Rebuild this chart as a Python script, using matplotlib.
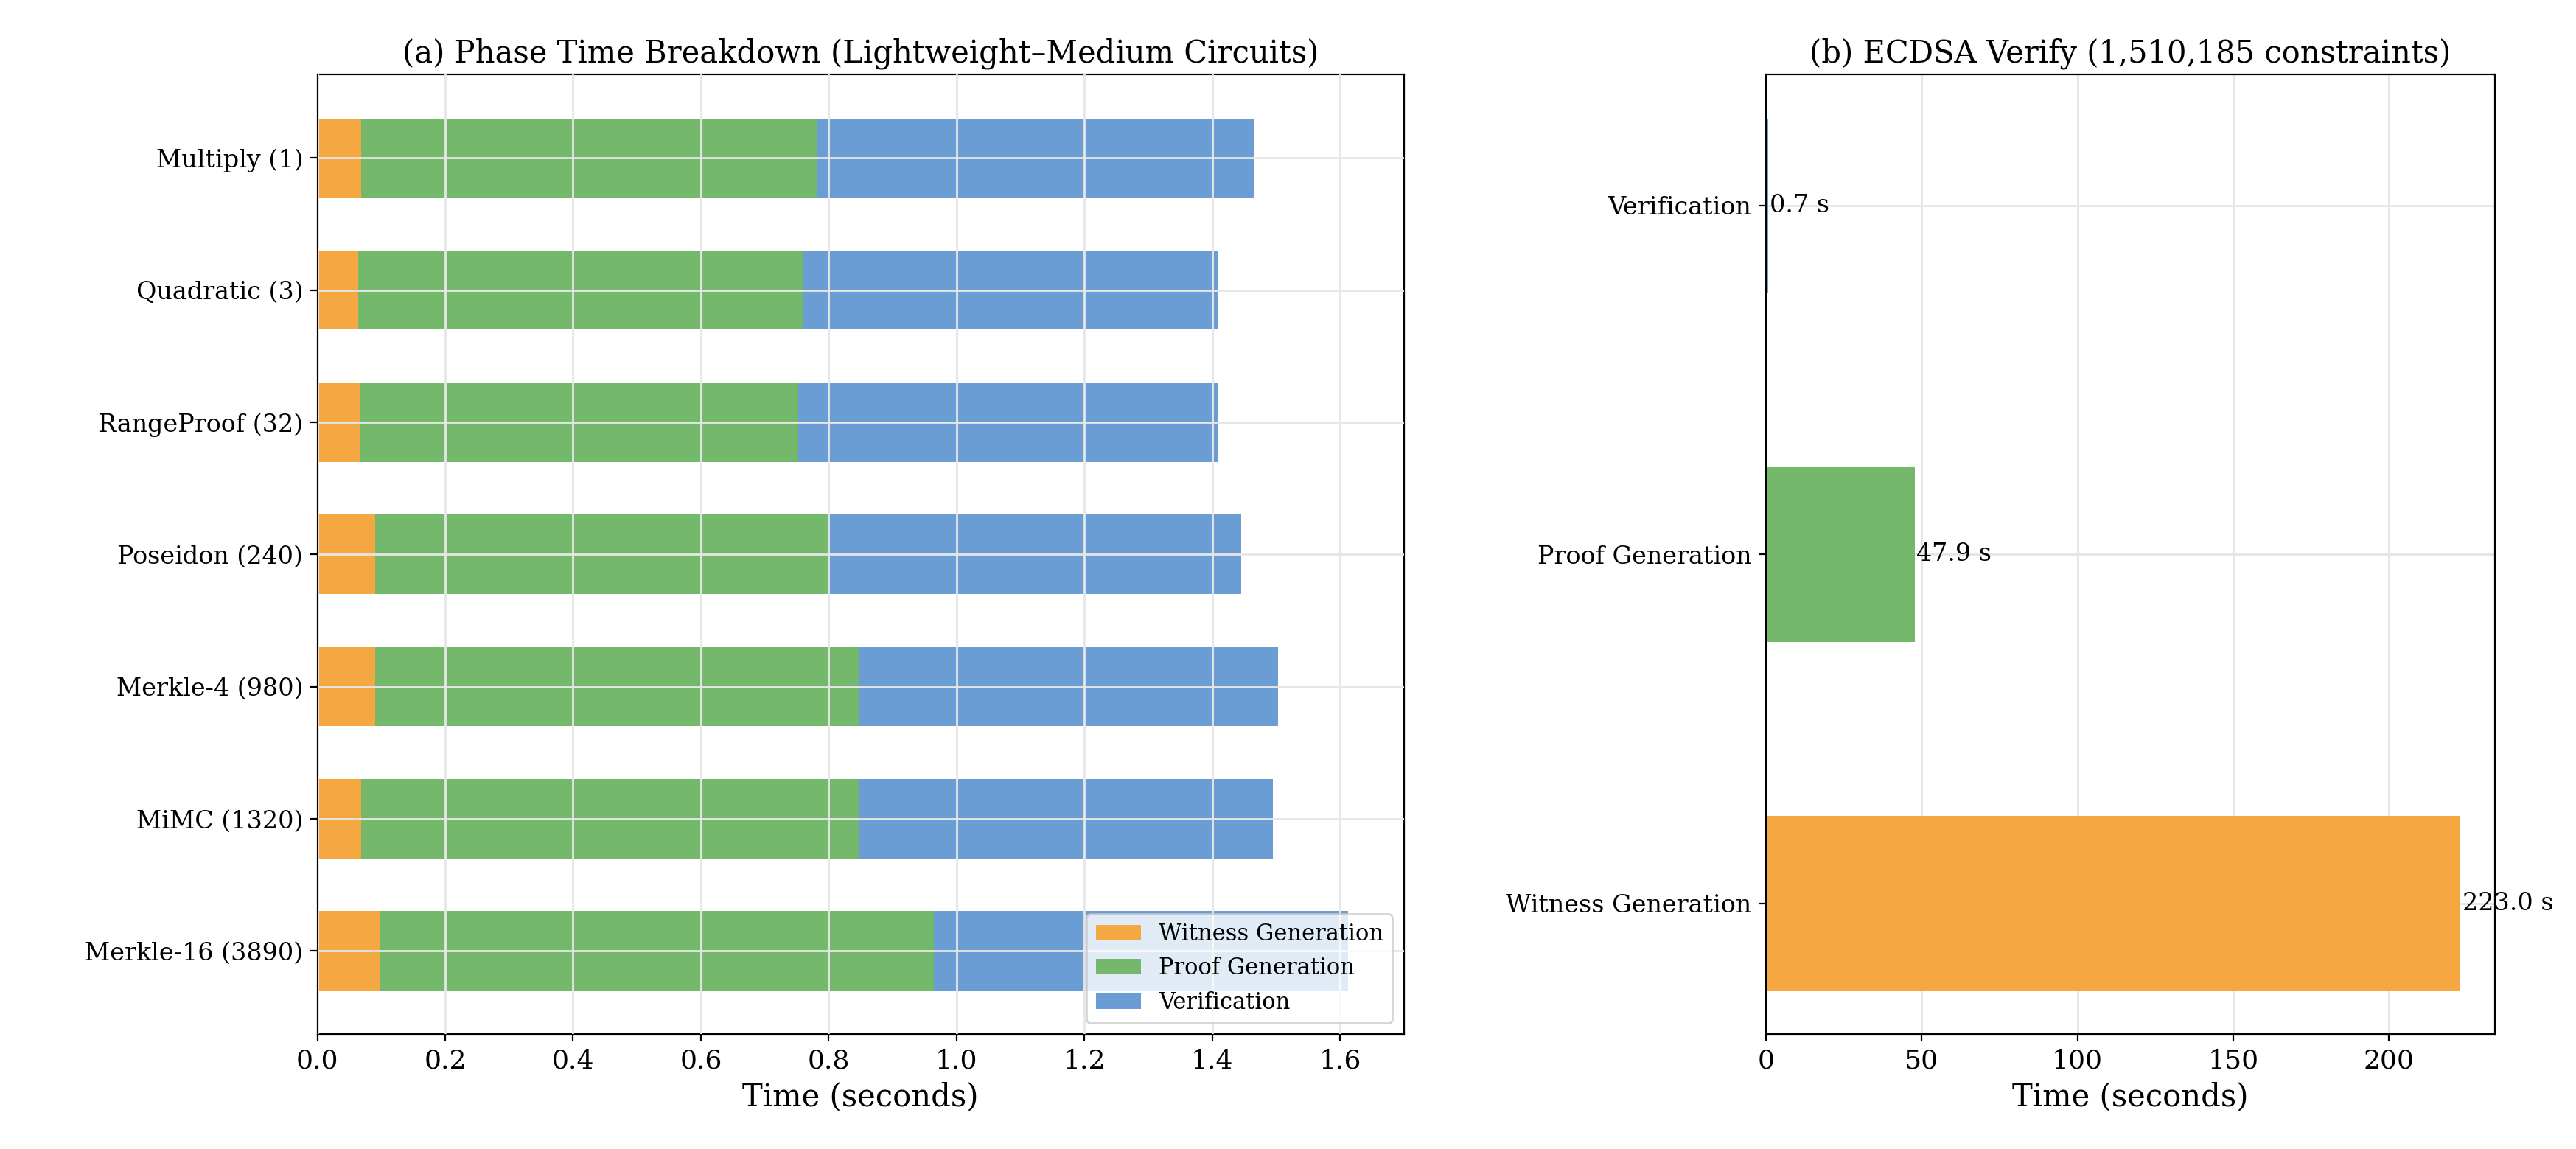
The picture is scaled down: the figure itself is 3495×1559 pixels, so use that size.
import matplotlib
matplotlib.use("Agg")
import matplotlib.pyplot as plt
import numpy as np

plt.rcParams['font.family'] = ['DejaVu Serif']

circuits = ["Multiply (1)", "Quadratic (3)", "RangeProof (32)", "Poseidon (240)",
            "Merkle-4 (980)", "MiMC (1320)", "Merkle-16 (3890)"]
witness = [0.069, 0.064, 0.066, 0.090, 0.091, 0.068, 0.097]
proof = [0.713, 0.696, 0.686, 0.711, 0.756, 0.780, 0.868]
verify = [0.684, 0.650, 0.657, 0.644, 0.656, 0.647, 0.648]

ecdsa_phases = ["Witness Generation", "Proof Generation", "Verification"]
ecdsa_times = [223.0, 47.9, 0.7]

c_w, c_p, c_v = "#f5a742", "#74b96b", "#6a9dd3"

fig = plt.figure(figsize=(17.475, 7.795), dpi=200)
ax1 = fig.add_axes([0.1232, 0.100, 0.4218, 0.835])
ax2 = fig.add_axes([0.6855, 0.100, 0.2830, 0.835])

y = np.arange(len(circuits))
w = np.array(witness); p = np.array(proof); v = np.array(verify)
ax1.barh(y, w, height=0.6, color=c_w, label="Witness Generation", zorder=2)
ax1.barh(y, p, left=w, height=0.6, color=c_p, label="Proof Generation", zorder=2)
ax1.barh(y, v, left=w + p, height=0.6, color=c_v, label="Verification", zorder=2)
ax1.set_yticks(y)
ax1.set_yticklabels(circuits, fontsize=12)
ax1.invert_yaxis()
ax1.set_xlim(0, 1.7)
ax1.set_xticks(np.arange(0, 1.61, 0.2))
ax1.tick_params(axis='x', labelsize=13)
ax1.set_xlabel("Time (seconds)", fontsize=15)
ax1.set_title("(a) Phase Time Breakdown (Lightweight–Medium Circuits)", fontsize=15)
ax1.grid(True, color="#e6e6e6", linewidth=1, zorder=3)
ax1.set_axisbelow(False)
ax1.legend(loc="lower right", fontsize=11, framealpha=0.8)

ax2.barh(ecdsa_phases, ecdsa_times, height=0.5, color=[c_w, c_p, c_v], zorder=2)
for i, t in enumerate(ecdsa_times):
    ax2.text(t + 0.5, i, f"{t:.1f} s", va="center", ha="left", fontsize=12)
ax2.set_xlim(0, 234)
ax2.set_xticks([0, 50, 100, 150, 200])
ax2.tick_params(axis='x', labelsize=13)
ax2.tick_params(axis='y', labelsize=12)
ax2.set_xlabel("Time (seconds)", fontsize=15)
ax2.set_title("(b) ECDSA Verify (1,510,185 constraints)", fontsize=15)
ax2.grid(True, color="#e6e6e6", linewidth=1, zorder=0)
ax2.set_axisbelow(True)

fig.savefig("out.png", dpi=200)
